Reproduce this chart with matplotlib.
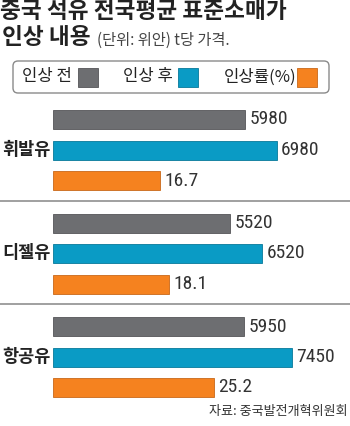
import matplotlib
matplotlib.use("Agg")
import matplotlib.pyplot as plt
from matplotlib.patches import FancyBboxPatch
from matplotlib import font_manager

plt.rcParams['font.family'] = ['Noto Sans CJK KR', 'DejaVu Sans']

# Data
fuels = ["휘발유", "디젤유", "항공유"]
before = [5980, 5520, 5950]      # 인상 전 (위안/t)
after = [6980, 6520, 7450]       # 인상 후 (위안/t)
rate = [16.7, 18.1, 25.2]        # 인상률 (%)
before_lbl = ["5980", "5520", "5950"]
after_lbl = ["6980", "6520", "7450"]
rate_lbl = ["16.7", "18.1", "25.2"]

series_names = ["인상 전", "인상 후", "인상률(%)"]
colors = ["#6d6e71", "#0a9bc5", "#f5821f"]
edges = ["#555558", "#07799a", "#c8681a"]

title1 = "중국 석유 전국평균 표준소매가"
title2 = "인상 내용"
unit_note = "(단위: 위안) t당 가격."
source = "자료: 중국발전개혁위원회"

# Prefer a narrow face for the numbers if one is available
available = {f.name for f in font_manager.fontManager.ttflist}
narrow_pref = ["Roboto Condensed", "Liberation Sans Narrow", "DejaVu Sans Condensed",
               "Open Sans Condensed", "Roboto"]
num_font = [f for f in narrow_pref if f in available] + ["DejaVu Sans"]
num_size = 14 if num_font[0] in ("Roboto Condensed", "Liberation Sans Narrow",
                                 "Open Sans Condensed") else 12.6

W, H = 350, 426
fig = plt.figure(figsize=(W / 100, H / 100), dpi=100)
fig.patch.set_facecolor("white")

# Overlay axes in pixel coordinates for text and decoration
lay = fig.add_axes([0, 0, 1, 1])
lay.set_xlim(0, W)
lay.set_ylim(H, 0)
lay.axis("off")

# Bar axes: prices on the primary x, percentages on a twin x
x0 = 53
ax = fig.add_axes([x0 / W, 0, (W - x0) / W, 1])
ax.set_xlim(0, (W - x0) / 0.0321)
ax.set_ylim(H, 0)
ax.axis("off")
ax.patch.set_alpha(0)
axr = ax.twiny()
axr.set_xlim(0, (W - x0) / 6.4)
axr.set_ylim(H, 0)
axr.axis("off")
axr.patch.set_alpha(0)

group_top = 119.5
group_pitch = 103.5
bar_pitch = 30.5
bar_h = 19

num_color = "#333333"

for i, name in enumerate(fuels):
    yc = group_top + i * group_pitch
    ys = [yc, yc + bar_pitch, yc + 2 * bar_pitch]
    ax.barh(ys[0], before[i], height=bar_h, left=0, color=colors[0],
            edgecolor=edges[0], linewidth=0.6)
    ax.text(before[i] + 130, ys[0], before_lbl[i], va="center", ha="left",
            fontsize=num_size, family=num_font, color=num_color)
    ax.barh(ys[1], after[i], height=bar_h, left=0, color=colors[1],
            edgecolor=edges[1], linewidth=0.6)
    ax.text(after[i] + 130, ys[1], after_lbl[i], va="center", ha="left",
            fontsize=num_size, family=num_font, color=num_color)
    axr.barh(ys[2], rate[i], height=bar_h, left=0, color=colors[2],
             edgecolor=edges[2], linewidth=0.6)
    axr.text(rate[i] + 0.65, ys[2], rate_lbl[i], va="center", ha="left",
             fontsize=num_size, family=num_font, color=num_color)
    lay.text(2, ys[1], name, va="center", ha="left", fontsize=12.6,
             fontweight="bold", color="#222222")

# Group separators
for ysep in (201, 304):
    lay.plot([0, W], [ysep, ysep], color="#a0a0a0", lw=1.4,
             solid_capstyle="butt")

# Title
lay.text(0, 12, title1, va="center", ha="left", fontsize=16.3,
         fontweight="bold", color="#222222")
lay.text(2, 37, title2, va="center", ha="left", fontsize=16.3,
         fontweight="bold", color="#222222")
lay.text(97, 40, unit_note, va="center", ha="left", fontsize=11,
         fontweight="light", color="#444444")

# Legend box
box = FancyBboxPatch((13, 61), 316, 32, boxstyle="round,pad=0,rounding_size=5",
                     facecolor="white", edgecolor="#8a8a8a", linewidth=1.0)
lay.add_patch(box)
leg_text_x = [22, 123, 224]
leg_sq_x = [78, 178, 297]
for name, tx, sx, c, e in zip(series_names, leg_text_x, leg_sq_x, colors, edges):
    lay.text(tx, 77, name, va="center", ha="left", fontsize=12,
             color="#222222")
    lay.add_patch(plt.Rectangle((sx, 68), 20, 19, facecolor=c,
                                edgecolor=e, linewidth=0.6))

# Source
lay.text(348, 411, source, va="center", ha="right", fontsize=9.4,
         color="#333333")

fig.savefig("out.png", dpi=100, facecolor="white")
